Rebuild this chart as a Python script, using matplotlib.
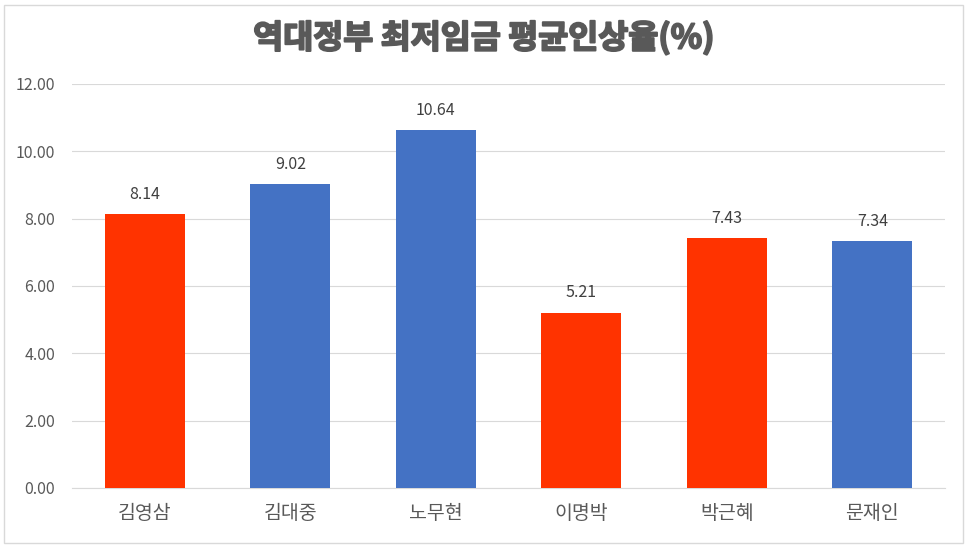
import matplotlib
matplotlib.use("Agg")
import matplotlib.pyplot as plt
import matplotlib.patheffects as pe
from matplotlib.patches import Rectangle

plt.rcParams['font.family'] = ['Noto Sans CJK KR', 'DejaVu Sans']

# data
presidents = ['김영삼', '김대중', '노무현', '이명박', '박근혜', '문재인']
raise_pct = [8.14, 9.02, 10.64, 5.21, 7.43, 7.34]
bar_colors = ['#FF3300', '#4472C4', '#4472C4', '#FF3300', '#FF3300', '#4472C4']
y_ticks = [0, 2, 4, 6, 8, 10, 12]

W, H = 967, 548
fig = plt.figure(figsize=(W / 100, H / 100), dpi=100)

# outer chart border
fig.patches.append(Rectangle((4 / W, 5 / H), 959 / W, 538 / H, transform=fig.transFigure,
                             fill=False, edgecolor='#D9D9D9', linewidth=1))

ax = fig.add_axes([72 / W, 1 - 488 / H, 873 / W, 404 / H])
x = range(len(presidents))
ax.bar(x, raise_pct, width=0.55, color=bar_colors, zorder=3)

for xi, v in zip(x, raise_pct):
    ax.text(xi, v + 0.33, f'{v:.2f}', ha='center', va='bottom', fontsize=11.5, color='#404040')

ax.set_xlim(-0.5, len(presidents) - 0.5)
ax.set_ylim(0, 12)
ax.set_yticks(y_ticks)
ax.set_yticklabels([f'{t:.2f}' for t in y_ticks], fontsize=11.5, color='#595959')
ax.set_xticks(list(x))
ax.set_xticklabels(presidents, fontsize=14, color='#595959')
ax.tick_params(axis='both', length=0)
ax.tick_params(axis='x', pad=11)
ax.tick_params(axis='y', pad=12)
ax.grid(axis='y', color='#D9D9D9', linewidth=0.8, zorder=0)
for side in ['top', 'right', 'left']:
    ax.spines[side].set_visible(False)
ax.spines['bottom'].set_color('#D9D9D9')

fig.text(0.5, 1 - 38 / H, '역대정부 최저임금 평균인상율(%)', ha='center', va='center',
         fontsize=23.5, fontweight='black', color='#595959',
         path_effects=[pe.withStroke(linewidth=1.4, foreground='#595959')])

fig.savefig('out.png', dpi=100)
